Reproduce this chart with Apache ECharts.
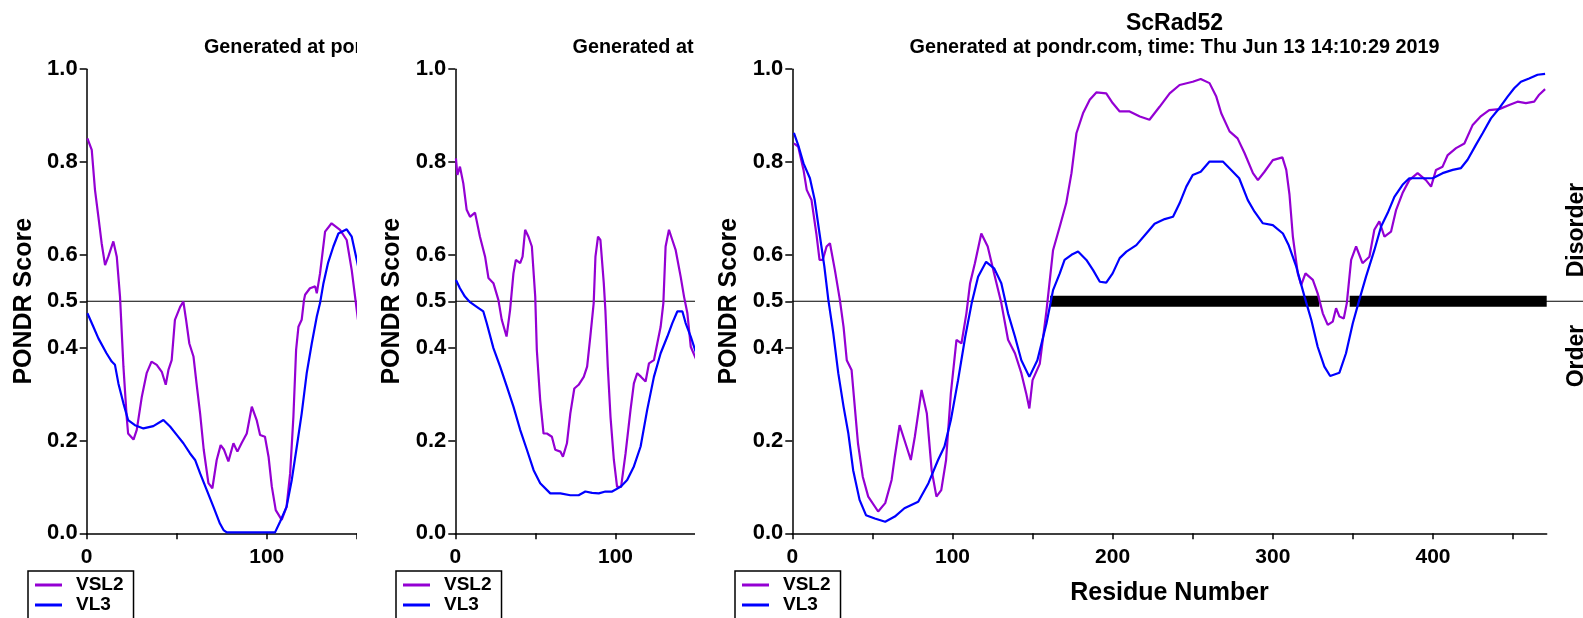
<!DOCTYPE html>
<html><head><meta charset="utf-8">
<script src="https://cdn.jsdelivr.net/npm/echarts@6/dist/echarts.min.js"></script>
<style>
html,body{margin:0;padding:0;background:#fff;width:1583px;height:618px;overflow:hidden}
.clip{position:absolute;top:0;height:618px;overflow:hidden}
.inner{position:absolute;top:0;left:0;width:883px;height:660px}
</style></head><body>
<div class="clip" style="left:0;width:357px"><div id="c1" class="inner"></div></div>
<div class="clip" style="left:360px;width:335px"><div id="c2" class="inner"></div></div>
<div class="clip" style="left:700px;width:883px"><div id="c3" class="inner"></div></div>
<script>
// ---- data ----
var seriesNames = ['VSL2', 'VL3'];
var yTickValues = [0, 0.2, 0.4, 0.5, 0.6, 0.8, 1.0];
var threshold = 0.5;
var titleText = 'ScRad52';
var subtitleText = 'Generated at pondr.com, time: Thu Jun 13 14:10:29 2019';

// panel 1 (partial view)
var p1Length = 419;
var p1Vsl2 = [[0.4,0.851],[2.8,0.826],[4.6,0.74],[6.5,0.682],[8.3,0.625],[10.2,0.578],[12,0.596],[14.8,0.629],[16.7,0.596],[18.5,0.51],[20.4,0.359],[22.2,0.251],[23,0.215],[26,0.202],[27.8,0.223],[30.6,0.294],[33.3,0.345],[36,0.37],[38.9,0.363],[41.7,0.348],[43.9,0.32],[45.4,0.352],[47.2,0.373],[49,0.46],[51.9,0.488],[53.7,0.499],[55.2,0.46],[57,0.409],[59.3,0.381],[61,0.323],[63,0.258],[65,0.18],[67.6,0.108],[69.8,0.097],[72.2,0.158],[74.4,0.19],[76.3,0.18],[78.7,0.155],[81.5,0.194],[83.7,0.176],[86,0.194],[88.9,0.215],[91.7,0.273],[94.4,0.244],[96.3,0.212],[99,0.208],[101,0.165],[102.8,0.101],[105,0.05],[108.3,0.029],[111,0.057],[113,0.129],[114.8,0.251],[116.3,0.395],[117.6,0.445],[119.4,0.46],[120.7,0.503],[121.3,0.514],[124,0.528],[126.9,0.532],[127.8,0.517],[129.6,0.56],[132.4,0.65],[136,0.668],[140.7,0.654],[144.4,0.632],[147.2,0.567],[150,0.481],[151,0.45]];
var p1Vl3 = [[0.4,0.474],[3.7,0.445],[6.5,0.42],[11,0.388],[13.9,0.37],[15.7,0.363],[17.6,0.323],[20.4,0.28],[23,0.244],[26.8,0.233],[31.5,0.226],[37,0.231],[42.6,0.244],[46.3,0.23],[50,0.212],[53.7,0.194],[57.4,0.172],[60.2,0.158],[63,0.129],[66.7,0.093],[70.4,0.057],[74,0.021],[76,0.007],[77.8,0.002],[104.6,0.002],[107.4,0.025],[111,0.057],[113.9,0.115],[116.7,0.187],[119.4,0.258],[122.2,0.345],[125,0.409],[127.8,0.467],[129.6,0.496],[131.5,0.539],[134,0.582],[137,0.618],[139.8,0.646],[144.4,0.655],[147.2,0.639],[150,0.589],[151,0.57]];

// panel 2 (partial view)
var p2Length = 471;
var p2Vsl2 = [[0.4,0.808],[1.3,0.772],[2.9,0.79],[5,0.754],[7.1,0.697],[9.2,0.682],[12.3,0.691],[15.4,0.639],[18.6,0.596],[20.7,0.55],[23.8,0.539],[26.9,0.503],[29,0.46],[32,0.424],[34.2,0.481],[36.3,0.56],[37.8,0.589],[40.5,0.582],[42,0.596],[43.6,0.654],[45.7,0.639],[47.8,0.618],[49.9,0.51],[50.9,0.395],[53,0.287],[55.1,0.215],[57.2,0.215],[60.3,0.208],[62.4,0.18],[65.6,0.176],[67.2,0.165],[69.7,0.194],[71.8,0.258],[74.3,0.312],[77,0.32],[80.2,0.337],[82.3,0.359],[84.3,0.424],[86.4,0.496],[87.5,0.596],[89.1,0.639],[90.6,0.632],[92.7,0.539],[93.7,0.481],[95.2,0.359],[96.9,0.251],[99,0.158],[101,0.1],[103.5,0.1],[106.3,0.172],[109.4,0.266],[111.5,0.323],[113.6,0.345],[116,0.337],[118.8,0.327],[120.9,0.366],[124,0.373],[126.1,0.409],[128.2,0.445],[129.9,0.496],[131.3,0.618],[133.4,0.654],[135.5,0.632],[137.6,0.61],[140.7,0.553],[142.8,0.51],[144.9,0.474],[147,0.402],[150.1,0.377],[152,0.36]];
var p2Vl3 = [[0.4,0.546],[2.9,0.528],[6,0.51],[9.2,0.498],[13.4,0.488],[17.5,0.478],[19.6,0.453],[23.8,0.399],[28,0.359],[32.2,0.316],[36.3,0.273],[40.5,0.223],[44.7,0.18],[48.9,0.136],[53,0.108],[59.3,0.086],[65.6,0.086],[71.8,0.082],[77,0.082],[81.2,0.09],[85.4,0.087],[89.6,0.086],[93.7,0.09],[97.9,0.09],[103.1,0.1],[107.3,0.115],[111.5,0.144],[115.7,0.187],[119.8,0.266],[124,0.337],[128.2,0.388],[132.4,0.424],[135.5,0.453],[138.6,0.478],[141.8,0.478],[143.8,0.453],[147,0.424],[150.1,0.391],[152,0.37]];

// panel 3 (ScRad52, full view)
var p3Length = 471;
var p3Vsl2 = [[1,0.84],[3.7,0.833],[7,0.783],[9,0.74],[12,0.718],[15,0.646],[17,0.589],[19,0.589],[21.4,0.618],[23.5,0.625],[26.6,0.567],[29.7,0.503],[32,0.445],[34,0.373],[37,0.352],[39,0.273],[41,0.194],[44,0.122],[47.4,0.079],[53.6,0.047],[58,0.065],[62,0.115],[64,0.165],[67,0.233],[70,0.201],[74,0.158],[76.5,0.208],[78.6,0.258],[80.7,0.309],[84,0.258],[87,0.136],[90,0.079],[93,0.093],[96,0.158],[99,0.302],[102.5,0.417],[105.6,0.409],[108.7,0.474],[111,0.539],[114,0.582],[118,0.646],[122,0.618],[126,0.56],[130.5,0.496],[134.7,0.417],[139,0.388],[143,0.345],[146,0.302],[148,0.269],[150,0.33],[154.5,0.365],[158.7,0.48],[162.8,0.61],[167,0.661],[171,0.711],[174.3,0.776],[177.4,0.862],[181.5,0.905],[185.7,0.934],[189.8,0.95],[196,0.948],[200,0.927],[204.4,0.909],[210.6,0.909],[217,0.898],[223,0.891],[229.3,0.919],[235.6,0.948],[241.8,0.966],[250,0.973],[255,0.979],[260.5,0.97],[264.7,0.941],[267.8,0.905],[273,0.866],[278,0.851],[282.4,0.819],[287.6,0.776],[290.7,0.761],[294.8,0.779],[300,0.804],[306,0.81],[308.4,0.783],[310.4,0.73],[312.5,0.64],[315.6,0.56],[317.7,0.535],[320.4,0.56],[325,0.546],[328,0.517],[331.2,0.474],[334.3,0.449],[337.4,0.456],[339.5,0.485],[341.6,0.467],[344.3,0.463],[346.2,0.496],[348.9,0.589],[352,0.618],[356,0.582],[360.3,0.596],[363.4,0.654],[366.5,0.672],[369.7,0.639],[373.8,0.65],[377,0.697],[381,0.733],[385.2,0.761],[390.4,0.776],[395.6,0.761],[398.8,0.747],[401.9,0.783],[406,0.79],[409.2,0.815],[414.4,0.83],[419.6,0.84],[424.8,0.88],[430,0.899],[435.1,0.912],[441.4,0.914],[447.6,0.923],[452.8,0.93],[458,0.927],[463.2,0.93],[466.3,0.945],[470,0.957]];
var p3Vl3 = [[1,0.863],[4,0.833],[7,0.797],[11,0.765],[14,0.718],[17,0.646],[20,0.575],[22.5,0.503],[25.6,0.431],[28.7,0.345],[32,0.273],[35,0.215],[38,0.136],[42,0.072],[46,0.039],[51.5,0.032],[58,0.025],[64,0.036],[70,0.054],[78.6,0.068],[85,0.108],[91,0.158],[95,0.187],[99,0.244],[103.5,0.33],[108,0.424],[112,0.496],[116,0.553],[121,0.585],[126,0.571],[130.5,0.539],[134.7,0.474],[139,0.424],[143,0.373],[148,0.337],[153,0.373],[158.7,0.452],[162.8,0.524],[167,0.56],[170,0.589],[174.3,0.6],[178.4,0.607],[183.6,0.589],[187.8,0.567],[192,0.542],[196,0.54],[200,0.56],[204.4,0.593],[208.6,0.607],[214.8,0.621],[221,0.646],[226.2,0.667],[232.5,0.677],[237.7,0.682],[241.8,0.711],[246,0.747],[250,0.772],[255,0.779],[260.5,0.801],[268.8,0.801],[274,0.783],[279,0.765],[284.4,0.718],[288.6,0.693],[293.8,0.668],[300,0.664],[306.3,0.646],[310,0.62],[314.6,0.575],[319.8,0.51],[324,0.46],[328,0.402],[332.2,0.359],[335.8,0.339],[341.6,0.346],[345.7,0.388],[349.9,0.452],[354,0.503],[358.2,0.553],[363.4,0.61],[367.6,0.661],[371.7,0.69],[375.9,0.725],[381,0.751],[385.2,0.765],[393.6,0.765],[399.8,0.765],[406,0.776],[412.3,0.783],[417.5,0.787],[421.6,0.805],[426.8,0.837],[431,0.862],[436.2,0.894],[441.4,0.916],[446.6,0.941],[450.7,0.959],[454.9,0.973],[460,0.98],[465.3,0.988],[470,0.99]];
var p3DisorderSegments = [[161, 329], [348, 471]];

// ---- styling ----
var FONT = '"Liberation Sans", Arial, Helvetica, sans-serif';
var PURPLE = '#9400D3';
var BLUE = '#0000FF';
var GRID_TOP = 69.2, GRID_W = 754.4, GRID_H = 464.1;

function buildOption(cfg) {
  var gl = cfg.gridLeft;
  var segData = [];
  (cfg.segments || []).forEach(function (s, i) {
    if (i > 0) segData.push(null);
    segData.push([s[0], threshold], [s[1], threshold]);
  });
  var txt = {fontFamily: FONT, fontWeight: 'bold', color: '#000'};
  var titles = [];
  if (cfg.title) titles.push({text: cfg.title, left: gl + GRID_W / 2, textAlign: 'center', top: 7,
    textStyle: Object.assign({fontSize: 23}, txt)});
  titles.push({text: subtitleText, left: gl + GRID_W / 2, textAlign: 'center', top: 33,
    textStyle: Object.assign({fontSize: 19.8}, txt)});
  var graphics = [];
  if (cfg.sideLabels) {
    graphics.push({type: 'text', x: cfg.sideX, y: 230, rotation: Math.PI / 2,
      style: {text: 'Disorder', fontSize: 23, align: 'center', verticalAlign: 'middle', fill: '#000', fontFamily: FONT, fontWeight: 'bold'}});
    graphics.push({type: 'text', x: cfg.sideX, y: 356, rotation: Math.PI / 2,
      style: {text: 'Order', fontSize: 23, align: 'center', verticalAlign: 'middle', fill: '#000', fontFamily: FONT, fontWeight: 'bold'}});
  }
  var series = [
    {type: 'line', xAxisIndex: 1, yAxisIndex: 1, data: [[0, threshold], [1, threshold]], symbol: 'none',
      lineStyle: {color: '#000', width: 1.2}, z: 1, silent: true},
    {name: seriesNames[0], type: 'line', xAxisIndex: 0, yAxisIndex: 0, data: cfg.vsl2, symbol: 'none',
      lineStyle: {color: PURPLE, width: 2.2}, itemStyle: {color: PURPLE}, z: 4},
    {name: seriesNames[1], type: 'line', xAxisIndex: 0, yAxisIndex: 0, data: cfg.vl3, symbol: 'none',
      lineStyle: {color: BLUE, width: 2.2}, itemStyle: {color: BLUE}, z: 5}
  ];
  if (segData.length) series.splice(1, 0, {type: 'line', xAxisIndex: 0, yAxisIndex: 0, data: segData, symbol: 'none',
      connectNulls: false, lineStyle: {color: '#000', width: 11, cap: 'butt'}, z: 2, silent: true});
  return {
    animation: false,
    backgroundColor: '#fff',
    title: titles,
    graphic: graphics,
    legend: {
      data: seriesNames, orient: 'vertical', left: cfg.legendLeft, top: 571,
      icon: 'rect', itemWidth: 27, itemHeight: 3, itemGap: 0,
      padding: [4, 10, 4, 7], borderColor: '#000', borderWidth: 1.5,
      textStyle: Object.assign({fontSize: 19, lineHeight: 20, padding: [0, 0, 0, 9]}, txt)
    },
    grid: [
      {left: gl, top: GRID_TOP, width: GRID_W, height: GRID_H},
      {left: gl, top: GRID_TOP, right: 0, height: GRID_H}
    ],
    xAxis: [
      {type: 'value', gridIndex: 0, min: 0, max: cfg.xMax, interval: 50,
        axisLine: {onZero: false, lineStyle: {color: '#000', width: 1.5}},
        axisTick: {length: 6, lineStyle: {color: '#000', width: 1.5}},
        axisLabel: Object.assign({fontSize: 21, margin: 13, showMaxLabel: false,
          formatter: function (v) { return v % 100 === 0 ? String(v) : ''; }}, txt),
        splitLine: {show: false},
        name: cfg.xName || '', nameLocation: 'middle', nameGap: 47,
        nameTextStyle: Object.assign({fontSize: 25}, txt)},
      {type: 'value', gridIndex: 1, min: 0, max: 1, show: false}
    ],
    yAxis: [
      {type: 'value', gridIndex: 0, min: 0, max: 1,
        axisLine: {show: true, lineStyle: {color: '#000', width: 1.5}},
        axisTick: {show: true, length: 7, customValues: yTickValues, lineStyle: {color: '#000', width: 1.5}},
        axisLabel: Object.assign({fontSize: 22, margin: 9, customValues: yTickValues,
          formatter: function (v) { return Number(v).toFixed(1); }}, txt),
        splitLine: {show: false},
        name: 'PONDR Score', nameLocation: 'middle', nameRotate: 90, nameGap: 47,
        nameTextStyle: Object.assign({fontSize: 25}, txt)},
      {type: 'value', gridIndex: 1, min: 0, max: 1, show: false}
    ],
    series: series
  };
}

var c1 = echarts.init(document.getElementById('c1'), null, {renderer: 'canvas'});
c1.setOption(buildOption({gridLeft: 86.7, xMax: p1Length, vsl2: p1Vsl2, vl3: p1Vl3, legendLeft: 28}));
var c2 = echarts.init(document.getElementById('c2'), null, {renderer: 'canvas'});
c2.setOption(buildOption({gridLeft: 95.3, xMax: p2Length, vsl2: p2Vsl2, vl3: p2Vl3, legendLeft: 36}));
var c3 = echarts.init(document.getElementById('c3'), null, {renderer: 'canvas'});
c3.setOption(buildOption({gridLeft: 92.3, xMax: p3Length, vsl2: p3Vsl2, vl3: p3Vl3, legendLeft: 35,
  segments: p3DisorderSegments, title: titleText, xName: 'Residue Number', sideLabels: true, sideX: 877}));
</script>
</body></html>
